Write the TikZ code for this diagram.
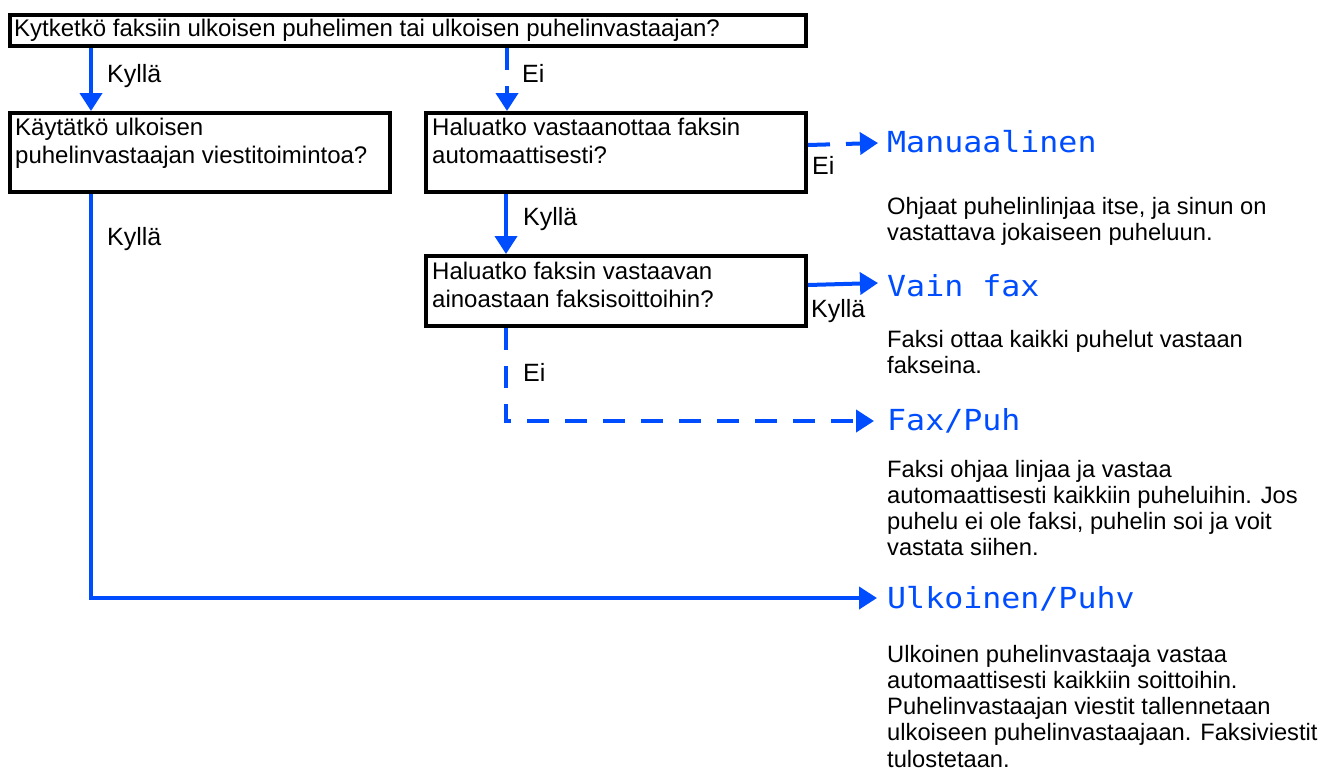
\documentclass[tikz,border=0pt]{standalone}
\usepackage{fontspec}
\setmainfont{Liberation Sans}
\newfontfamily\lcdfont[FakeStretch=1.09]{DejaVu Sans Mono}
\usetikzlibrary{arrows.meta}
\definecolor{flowblue}{RGB}{0,77,255}
\tikzset{
  qbox/.style={draw=black, line width=4pt, rectangle, inner sep=0pt, anchor=north west},
  qtext/.style={anchor=base west, inner sep=0pt, align=left, font=\fontsize{24}{28}\selectfont},
  lbl/.style={anchor=base west, inner sep=0pt, font=\fontsize{25}{28}\selectfont},
  desc/.style={anchor=base west, inner sep=0pt, align=left, font=\fontsize{23.7}{26.3}\selectfont},
  mode/.style={anchor=base west, inner sep=0pt, text=flowblue, font=\lcdfont\fontsize{29}{30}\selectfont},
  flow/.style={draw=flowblue, line width=4pt, -{Triangle[length=18pt,width=22pt]}},
  flowd/.style={flow, dash pattern=on 22pt off 16pt},
}
\begin{document}
\begin{tikzpicture}[x=1pt,y=-1pt]
\useasboundingbox (0,0) rectangle (1329,780);
% boxes
\node[qbox, minimum width=796pt, minimum height=31pt] (q1) at (8,13) {};
\node[qbox, minimum width=380pt, minimum height=79pt] (q2) at (8,111) {};
\node[qbox, minimum width=380pt, minimum height=79pt] (q3) at (424,111) {};
\node[qbox, minimum width=380pt, minimum height=70pt] (q4) at (424,254) {};
% box texts (base anchor = last line baseline)
\node[qtext] (q1t) at (14,36) {Kytketkö faksiin ulkoisen puhelimen tai ulkoisen puhelinvastaajan?};
\node[qtext] (q2t) at (15,163) {Käytätkö ulkoisen\\puhelinvastaajan viestitoimintoa?};
\node[qtext] (q3t) at (432,163) {Haluatko vastaanottaa faksin\\automaattisesti?};
\node[qtext] (q4t) at (432,307) {Haluatko faksin vastaavan\\ainoastaan faksisoittoihin?};
% end coordinates
\coordinate (e1) at (878,143);
\coordinate (e2) at (878,283);
\coordinate (e3) at (874,421);
\coordinate (e4) at (877,598);
% connectors
\draw[flow] ([xshift=83pt]q1.south west) -- ([xshift=83pt]q2.north west);
\draw[flowd] ([xshift=499pt]q1.south west) -- ([xshift=83pt]q3.north west);
\draw[flowd] ([yshift=7.5pt]q3.east) -- (e1);
\draw[flow] ([xshift=82pt]q3.south west) -- ([xshift=82pt]q4.north west);
\draw[flow] ([yshift=6pt]q4.east) -- (e2);
\draw[flowd] ([xshift=82pt]q4.south west) |- (e3);
\draw[flow] ([xshift=83pt]q2.south west) |- (e4);
% labels
\node[lbl] (l1) at (107,82) {Kyllä};
\node[lbl] (l2) at (522,82) {Ei};
\node[lbl] (l3) at (812,174) {Ei};
\node[lbl] (l4) at (523,225) {Kyllä};
\node[lbl] (l5) at (811,317) {Kyllä};
\node[lbl] (l6) at (523,381) {Ei};
\node[lbl] (l7) at (107,245) {Kyllä};
% modes
\node[mode] (m1) at (887,152) {Manuaalinen};
\node[mode] (m2) at (887,296) {Vain fax};
\node[mode] (m3) at (887,430) {Fax/Puh};
\node[mode] (m4) at (887,608) {Ulkoinen/Puhv};
% descriptions (base anchor = last line baseline)
\node[desc] (d1) at (887,240.3) {Ohjaat puhelinlinjaa itse, ja sinun on\\vastattava jokaiseen puheluun.};
\node[desc] (d2) at (887,373.3) {Faksi ottaa kaikki puhelut vastaan\\fakseina.};
\node[desc] (d3) at (887,555.9) {Faksi ohjaa linjaa ja vastaa\\automaattisesti kaikkiin puheluihin. Jos\\puhelu ei ole faksi, puhelin soi ja voit\\vastata siihen.};
\node[desc] (d4) at (887,767.2) {Ulkoinen puhelinvastaaja vastaa\\automaattisesti kaikkiin soittoihin.\\Puhelinvastaajan viestit tallennetaan\\ulkoiseen puhelinvastaajaan. Faksiviestit\\tulostetaan.};
\end{tikzpicture}
\end{document}
